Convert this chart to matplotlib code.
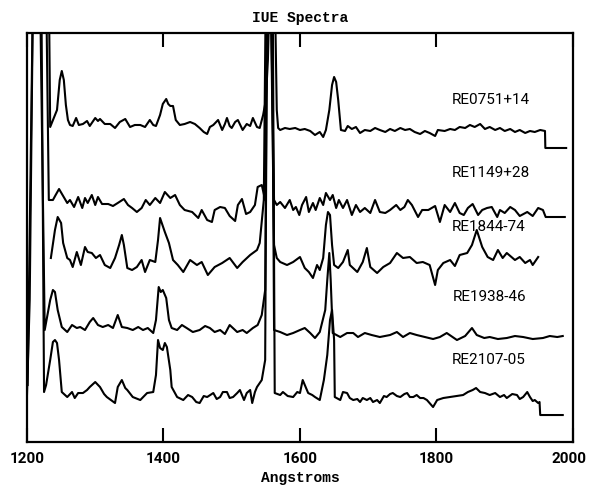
import matplotlib
matplotlib.use("Agg")
import matplotlib.pyplot as plt
import matplotlib.transforms as mtrans

# Stacked IUE spectra, flux in arbitrary offset units (off-scale lines get clipped)

wl1 = [1229, 1232, 1234, 1244, 1248, 1251, 1254, 1257, 1260, 1263, 1267, 1272, 1276, 1282, 1288,
       1292, 1300, 1304, 1307, 1314, 1322, 1329, 1336, 1344, 1351, 1358, 1366, 1373, 1380, 1385,
       1389, 1395, 1399, 1404, 1407, 1410, 1414, 1418, 1424, 1431, 1439, 1446, 1453, 1459, 1464,
       1468, 1473, 1480, 1486, 1490, 1493, 1497, 1500, 1505, 1509, 1516, 1522, 1527, 1531, 1537,
       1541, 1546, 1550, 1553, 1556, 1563, 1566, 1568, 1571, 1578, 1585, 1593, 1600, 1607, 1615,
       1622, 1629, 1634, 1638, 1643, 1647, 1650, 1653, 1656, 1660, 1666, 1670, 1676, 1682, 1688,
       1695, 1703, 1710, 1717, 1725, 1732, 1739, 1747, 1754, 1761, 1768, 1776, 1783, 1790, 1798,
       1802, 1812, 1820, 1827, 1834, 1842, 1849, 1856, 1864, 1871, 1878, 1886, 1893, 1900, 1908,
       1915, 1922, 1930, 1937, 1944, 1952, 1959, 1959.5, 1990]
fx1 = [460, 460, 315, 332, 362, 371, 362, 337, 322, 317, 316, 324, 317, 318, 321,
       316, 324, 321, 323, 318, 318, 314, 320, 323, 315, 317, 317, 315, 322, 317,
       316, 327, 338, 343, 338, 336, 336, 322, 317, 318, 320, 318, 314, 310, 308,
       315, 317, 322, 312, 318, 324, 316, 314, 320, 322, 312, 318, 316, 324, 315,
       314, 327, 342, 382, 460, 460, 332, 314, 312, 314, 313, 314, 312, 313, 311,
       307, 310, 305, 312, 332, 357, 365, 360, 342, 312, 311, 316, 313, 315, 309,
       312, 311, 314, 312, 310, 313, 311, 314, 312, 313, 310, 308, 311, 309, 306,
       312, 311, 313, 312, 315, 314, 317, 315, 318, 313, 315, 312, 314, 311, 313,
       310, 312, 309, 311, 310, 312, 311, 294, 294]

wl2 = [1228, 1232, 1238, 1242, 1247, 1253, 1259, 1263, 1269, 1275, 1281, 1285, 1289, 1295, 1300,
       1304, 1310, 1319, 1326, 1333, 1342, 1348, 1354, 1361, 1368, 1374, 1380, 1388, 1395, 1402,
       1410, 1417, 1424, 1431, 1442, 1451, 1456, 1464, 1471, 1475, 1483, 1490, 1497, 1505, 1509,
       1515, 1521, 1527, 1534, 1538, 1544, 1549, 1552, 1557, 1562, 1566, 1571, 1578, 1585, 1590,
       1594, 1599, 1603, 1609, 1613, 1619, 1623, 1629, 1634, 1638, 1644, 1648, 1653, 1657, 1663,
       1669, 1676, 1682, 1688, 1695, 1703, 1710, 1717, 1725, 1732, 1741, 1747, 1753, 1758, 1764,
       1773, 1779, 1788, 1798, 1805, 1812, 1820, 1827, 1834, 1840, 1846, 1853, 1861, 1867, 1874,
       1881, 1889, 1893, 1900, 1908, 1915, 1922, 1933, 1941, 1949, 1956, 1960, 1988]
fx2 = [460, 242, 242, 247, 253, 246, 239, 242, 235, 245, 234, 244, 239, 247, 237,
       245, 238, 238, 236, 239, 243, 237, 234, 230, 234, 242, 237, 244, 239, 250,
       244, 247, 237, 232, 230, 224, 232, 222, 220, 232, 235, 234, 226, 221, 237,
       243, 228, 230, 237, 255, 257, 242, 460, 460, 242, 237, 240, 234, 242, 232,
       235, 227, 237, 245, 230, 239, 232, 244, 237, 249, 242, 247, 234, 242, 234,
       242, 227, 237, 230, 234, 229, 242, 230, 229, 232, 237, 232, 235, 242, 237,
       225, 232, 232, 236, 220, 237, 230, 239, 229, 227, 234, 238, 227, 232, 234,
       235, 225, 232, 229, 235, 232, 226, 230, 226, 234, 232, 225, 225]

wl3 = [1235, 1241, 1245, 1250, 1253, 1259, 1263, 1267, 1273, 1279, 1285, 1289, 1295, 1301, 1307,
       1314, 1322, 1329, 1335, 1339, 1342, 1347, 1354, 1361, 1368, 1373, 1380, 1388, 1392, 1395,
       1402, 1408, 1414, 1421, 1429, 1439, 1449, 1456, 1465, 1475, 1486, 1497, 1508, 1516, 1527,
       1537, 1541, 1547, 1550, 1557, 1562, 1566, 1571, 1581, 1590, 1600, 1607, 1613, 1619, 1625,
       1629, 1634, 1638, 1641, 1644, 1647, 1650, 1656, 1663, 1670, 1673, 1684, 1692, 1698, 1703,
       1713, 1722, 1732, 1742, 1751, 1761, 1771, 1780, 1790, 1798, 1802, 1810, 1820, 1827, 1834,
       1845, 1852, 1859, 1867, 1875, 1883, 1890, 1897, 1903, 1915, 1922, 1930, 1937, 1941, 1949]
fx3 = [184, 212, 225, 219, 199, 184, 182, 175, 190, 177, 195, 190, 189, 184, 187,
       177, 174, 184, 197, 207, 197, 174, 172, 175, 182, 170, 182, 180, 202, 224,
       210, 199, 182, 177, 170, 182, 177, 180, 167, 175, 179, 184, 174, 180, 187,
       192, 199, 242, 460, 460, 197, 184, 180, 177, 180, 185, 174, 170, 164, 177,
       172, 184, 217, 230, 227, 197, 177, 174, 180, 192, 177, 170, 180, 194, 175,
       169, 175, 179, 189, 184, 185, 179, 180, 177, 157, 172, 179, 182, 176, 187,
       189, 197, 212, 195, 185, 182, 192, 184, 189, 182, 185, 179, 182, 177, 185]

wl4 = [1201, 1209, 1219, 1226, 1234, 1238, 1241, 1245, 1251, 1259, 1266, 1273, 1278, 1285, 1292,
       1297, 1304, 1311, 1319, 1326, 1333, 1339, 1347, 1355, 1363, 1370, 1377, 1385, 1389, 1393,
       1396, 1399, 1404, 1408, 1412, 1420, 1427, 1434, 1443, 1453, 1461, 1468, 1475, 1483, 1490,
       1497, 1508, 1516, 1522, 1531, 1538, 1544, 1549, 1552, 1559, 1562, 1571, 1581, 1590, 1600,
       1607, 1615, 1622, 1629, 1637, 1640, 1643, 1645, 1648, 1659, 1669, 1678, 1685, 1695, 1705,
       1717, 1732, 1742, 1751, 1761, 1771, 1783, 1795, 1805, 1815, 1830, 1842, 1852, 1859, 1870,
       1878, 1890, 1903, 1915, 1927, 1941, 1956, 1966, 1977, 1985]
fx4 = [57, 460, 460, 112, 142, 152, 150, 132, 115, 110, 117, 114, 115, 112, 120,
       124, 117, 115, 117, 114, 127, 115, 114, 112, 115, 112, 114, 109, 122, 155,
       150, 152, 144, 122, 114, 112, 117, 114, 110, 112, 116, 114, 110, 112, 108,
       117, 110, 112, 109, 114, 117, 127, 152, 460, 460, 112, 110, 107, 109, 112,
       114, 109, 104, 110, 132, 162, 189, 162, 109, 105, 109, 109, 105, 109, 107,
       105, 107, 110, 105, 109, 107, 105, 103, 105, 109, 102, 106, 114, 107, 104,
       105, 103, 104, 106, 105, 103, 104, 106, 105, 106]

wl5 = [1200, 1204, 1209, 1221, 1225, 1228, 1234, 1238, 1241, 1244, 1247, 1251, 1259, 1266, 1270,
       1275, 1282, 1288, 1292, 1300, 1307, 1313, 1317, 1323, 1329, 1333, 1339, 1344, 1347, 1355,
       1366, 1376, 1385, 1389, 1392, 1395, 1399, 1402, 1405, 1410, 1412, 1420, 1429, 1436, 1442,
       1448, 1453, 1459, 1464, 1473, 1478, 1483, 1487, 1493, 1497, 1502, 1508, 1512, 1518, 1522,
       1527, 1530, 1534, 1537, 1544, 1549, 1552, 1560, 1563, 1571, 1575, 1582, 1590, 1596, 1600,
       1604, 1609, 1612, 1618, 1622, 1629, 1635, 1640, 1644, 1647, 1650, 1651, 1659, 1663, 1669,
       1673, 1678, 1684, 1688, 1692, 1698, 1703, 1707, 1713, 1717, 1723, 1727, 1732, 1736, 1742,
       1747, 1753, 1757, 1761, 1766, 1771, 1776, 1781, 1786, 1795, 1801, 1810, 1820, 1830, 1839,
       1846, 1853, 1858, 1864, 1871, 1878, 1886, 1893, 1899, 1903, 1911, 1918, 1922, 1927, 1933,
       1937, 1941, 1944, 1949, 1951, 1952, 1985]
fx5 = [47, 142, 460, 460, 50, 57, 82, 100, 102, 99, 82, 50, 45, 50, 44,
       49, 49, 52, 55, 60, 55, 48, 45, 42, 39, 55, 62, 54, 52, 45,
       42, 49, 50, 67, 102, 94, 92, 99, 95, 72, 55, 45, 42, 47, 45,
       40, 39, 46, 45, 49, 43, 45, 50, 50, 44, 45, 49, 52, 42, 49,
       52, 39, 50, 55, 62, 82, 460, 460, 49, 47, 50, 46, 45, 50, 49,
       62, 54, 49, 47, 45, 42, 62, 87, 122, 132, 102, 45, 42, 50, 49,
       44, 42, 43, 40, 44, 42, 44, 40, 42, 39, 46, 45, 48, 49, 46,
       45, 48, 49, 45, 45, 47, 44, 44, 42, 35, 42, 44, 45, 46, 47,
       50, 52, 54, 50, 49, 47, 49, 45, 47, 44, 48, 47, 43, 45, 50,
       45, 41, 42, 39, 40, 27, 27]

names = ["RE0751+14", "RE1149+28", "RE1844-74", "RE1938-46", "RE2107-05"]
label_wl = [1823, 1823, 1823, 1824, 1823]
label_fx = [342, 269, 215, 145, 82]

xticks = [1200, 1400, 1600, 1800, 2000]

fig = plt.figure(figsize=(5.89, 4.93), dpi=100)
ax = fig.add_axes([0.0458, 0.1034, 0.927, 0.8297])

for wl, fx in [(wl1, fx1), (wl2, fx2), (wl3, fx3), (wl4, fx4), (wl5, fx5)]:
    ax.plot(wl, fx, color='black', lw=1.5, solid_joinstyle='round')

for name, lx, ly in zip(names, label_wl, label_fx):
    ax.text(lx, ly, name, ha='left', va='center', fontsize=11, family='Roboto')

ax.set_xlim(1200, 2000)
ax.set_ylim(0, 409)
ax.set_xticks(xticks)
ax.set_xticklabels([str(t) for t in xticks], fontsize=11, fontweight='bold', family='Roboto')
ax.set_yticks([])
ax.tick_params(axis='x', direction='in', length=10, width=1.5, top=True, pad=7)
for s in ax.spines.values():
    s.set_linewidth(1.6)

# nudge the last label so it stays inside the figure
last = ax.get_xticklabels()[-1]
last.set_transform(last.get_transform() + mtrans.ScaledTranslation(-3 / 72, 0, fig.dpi_scale_trans))

ax.set_title("IUE Spectra", fontsize=10.5, fontweight='bold', family='Liberation Mono', pad=8)
ax.set_xlabel("Angstroms", fontsize=10.5, fontweight='bold', family='Liberation Mono', labelpad=4)

plt.savefig("out.png", dpi=100)
